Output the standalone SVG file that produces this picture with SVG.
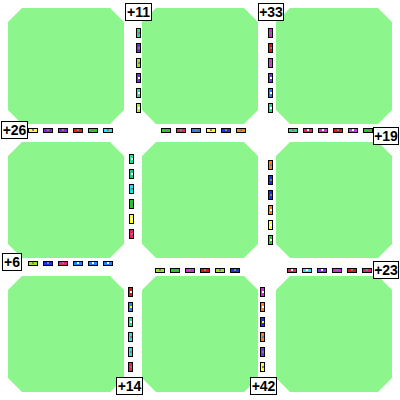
<svg xmlns="http://www.w3.org/2000/svg" xmlns:xlink="http://www.w3.org/1999/xlink" width="400" height="400" viewBox="0 0 400 400">
<style>
.blk{fill:#8cf58c}
.car{stroke:#000;stroke-width:1}
.w{fill:#808080}
.ww{fill:#ffffff}
.lb rect{fill:#fff;stroke:#000;stroke-width:1}
.lb text{font-family:"Liberation Sans",Arial,sans-serif;font-weight:bold;font-size:14px;fill:#000;text-anchor:middle}
</style>
<defs>
<polygon id="oct" points="14,0 102,0 116,14 116,102 102,116 14,116 0,102 0,14"/>
<rect id="ch" x="0.5" y="0.5" width="9" height="4"/>
<rect id="cv" x="0.5" y="0.5" width="4" height="9"/>
</defs>
<rect width="400" height="400" fill="#fff"/>
<g id="blocks">
<use id="b1" href="#oct" class="blk" x="8" y="8"/>
<use id="b2" href="#oct" class="blk" x="142" y="8"/>
<use id="b3" href="#oct" class="blk" x="276" y="8"/>
<use id="b4" href="#oct" class="blk" x="8" y="142"/>
<use id="b5" href="#oct" class="blk" x="142" y="142"/>
<use id="b6" href="#oct" class="blk" x="276" y="142"/>
<use id="b7" href="#oct" class="blk" x="8" y="276"/>
<use id="b8" href="#oct" class="blk" x="142" y="276"/>
<use id="b9" href="#oct" class="blk" x="276" y="276"/>
</g>
<g id="cars">
<!-- horizontal road 1 left -->
<g transform="translate(28,128)"><use href="#ch" class="car" fill="#ffff20"/><rect class="w" x="4" y="1" width="2" height="2"/></g>
<g transform="translate(43,128)"><use href="#ch" class="car" fill="#8020e0"/><rect class="w" x="4" y="1" width="2" height="2"/></g>
<g transform="translate(58,128)"><use href="#ch" class="car" fill="#7a28d8"/><rect class="w" x="4" y="1" width="2" height="2"/></g>
<g transform="translate(73,128)"><use href="#ch" class="car" fill="#ff1010"/><rect class="w" x="4" y="1" width="2" height="2"/></g>
<g transform="translate(88,128)"><use href="#ch" class="car" fill="#20d020"/><rect class="w" x="4" y="1" width="2" height="2"/></g>
<g transform="translate(103,128)"><use href="#ch" class="car" fill="#20e8f0"/><rect class="w" x="4" y="1" width="2" height="2"/></g>
<!-- horizontal road 1 middle -->
<g transform="translate(161,128)"><use href="#ch" class="car" fill="#20d020"/><rect class="w" x="4" y="1" width="2" height="2"/></g>
<g transform="translate(176,128)"><use href="#ch" class="car" fill="#e82068"/><rect class="w" x="4" y="1" width="2" height="2"/></g>
<g transform="translate(191,128)"><use href="#ch" class="car" fill="#2080ff"/><rect class="w" x="4" y="1" width="2" height="2"/></g>
<g transform="translate(206,128)"><use href="#ch" class="car" fill="#ffff20"/><rect class="w" x="4" y="1" width="2" height="2"/></g>
<g transform="translate(221,128)"><use href="#ch" class="car" fill="#1830f0"/><rect class="w" x="4" y="1" width="2" height="2"/></g>
<g transform="translate(236,128)"><use href="#ch" class="car" fill="#ff8010"/><rect class="w" x="4" y="1" width="2" height="2"/></g>
<!-- horizontal road 1 right -->
<g transform="translate(288,128)"><use href="#ch" class="car" fill="#20e090"/><rect class="w" x="4" y="1" width="2" height="2"/></g>
<g transform="translate(303,128)"><use href="#ch" class="car" fill="#e82068"/><rect class="ww" x="4" y="1" width="2" height="2"/></g>
<g transform="translate(318,128)"><use href="#ch" class="car" fill="#e020e0"/><rect class="ww" x="4" y="1" width="2" height="2"/></g>
<g transform="translate(333,128)"><use href="#ch" class="car" fill="#e81010"/><rect class="w" x="4" y="1" width="2" height="2"/></g>
<g transform="translate(348,128)"><use href="#ch" class="car" fill="#d030f0"/><rect class="ww" x="4" y="1" width="2" height="2"/></g>
<g transform="translate(363,128)"><use href="#ch" class="car" fill="#20c820"/><rect class="w" x="4" y="1" width="2" height="2"/></g>
<!-- vertical road 1 top -->
<g transform="translate(136,28)"><use href="#cv" class="car" fill="#20e090"/><rect class="w" x="2" y="4" width="2" height="2"/></g>
<g transform="translate(136,43)"><use href="#cv" class="car" fill="#8020e0"/><rect class="w" x="2" y="4" width="2" height="2"/></g>
<g transform="translate(136,58)"><use href="#cv" class="car" fill="#a0e020"/><rect class="w" x="2" y="4" width="2" height="2"/></g>
<g transform="translate(136,73)"><use href="#cv" class="car" fill="#8020f0"/><rect class="ww" x="2" y="4" width="2" height="2"/></g>
<g transform="translate(136,88)"><use href="#cv" class="car" fill="#20e0a0"/><rect class="ww" x="2" y="4" width="2" height="2"/></g>
<g transform="translate(136,103)"><use href="#cv" class="car" fill="#b0f020"/><rect class="ww" x="2" y="4" width="2" height="2"/></g>
<!-- vertical road 2 top -->
<g transform="translate(268,28)"><use href="#cv" class="car" fill="#e820e0"/><rect class="w" x="2" y="4" width="2" height="2"/></g>
<g transform="translate(268,43)"><use href="#cv" class="car" fill="#e81010"/><rect class="w" x="2" y="4" width="2" height="2"/></g>
<g transform="translate(268,58)"><use href="#cv" class="car" fill="#d040d0"/><rect class="w" x="2" y="4" width="2" height="2"/></g>
<g transform="translate(268,73)"><use href="#cv" class="car" fill="#8030f0"/><rect class="ww" x="2" y="4" width="2" height="2"/></g>
<g transform="translate(268,88)"><use href="#cv" class="car" fill="#2080ff"/><rect class="ww" x="2" y="4" width="2" height="2"/></g>
<g transform="translate(268,103)"><use href="#cv" class="car" fill="#20e090"/><rect class="ww" x="2" y="4" width="2" height="2"/></g>
<!-- vertical road 1 middle -->
<g transform="translate(129,154)"><use href="#cv" class="car" fill="#20e090"/><rect class="ww" x="2" y="4" width="2" height="2"/></g>
<g transform="translate(129,169)"><use href="#cv" class="car" fill="#20d080"/><rect class="ww" x="2" y="4" width="2" height="2"/></g>
<g transform="translate(129,184)"><use href="#cv" class="car" fill="#20e0f0"/><rect class="w" x="2" y="4" width="2" height="2"/></g>
<g transform="translate(129,199)"><use href="#cv" class="car" fill="#20c820"/><rect class="w" x="2" y="4" width="2" height="2"/></g>
<g transform="translate(129,214)"><use href="#cv" class="car" fill="#ffff20"/><rect class="ww" x="2" y="4" width="2" height="2"/></g>
<g transform="translate(129,229)"><use href="#cv" class="car" fill="#e82068"/><rect class="w" x="2" y="4" width="2" height="2"/></g>
<!-- vertical road 2 middle -->
<g transform="translate(268,160)"><use href="#cv" class="car" fill="#ff8010"/><rect class="w" x="2" y="4" width="2" height="2"/></g>
<g transform="translate(268,175)"><use href="#cv" class="car" fill="#1830f0"/><rect class="w" x="2" y="4" width="2" height="2"/></g>
<g transform="translate(268,190)"><use href="#cv" class="car" fill="#1830f0"/><rect class="w" x="2" y="4" width="2" height="2"/></g>
<g transform="translate(268,205)"><use href="#cv" class="car" fill="#ff8010"/><rect class="ww" x="2" y="4" width="2" height="2"/></g>
<g transform="translate(268,220)"><use href="#cv" class="car" fill="#ffff20"/><rect class="ww" x="2" y="4" width="2" height="2"/></g>
<g transform="translate(268,235)"><use href="#cv" class="car" fill="#20d020"/><rect class="ww" x="2" y="4" width="2" height="2"/></g>
<!-- horizontal road 2 left -->
<g transform="translate(28,261)"><use href="#ch" class="car" fill="#a0e020"/><rect class="w" x="4" y="1" width="2" height="2"/></g>
<g transform="translate(43,261)"><use href="#ch" class="car" fill="#1830f0"/><rect class="w" x="4" y="1" width="2" height="2"/></g>
<g transform="translate(58,261)"><use href="#ch" class="car" fill="#e82068"/><rect class="w" x="4" y="1" width="2" height="2"/></g>
<g transform="translate(73,261)"><use href="#ch" class="car" fill="#2080ff"/><rect class="ww" x="4" y="1" width="2" height="2"/></g>
<g transform="translate(88,261)"><use href="#ch" class="car" fill="#2080ff"/><rect class="ww" x="4" y="1" width="2" height="2"/></g>
<g transform="translate(103,261)"><use href="#ch" class="car" fill="#2080ff"/><rect class="ww" x="4" y="1" width="2" height="2"/></g>
<!-- horizontal road 2 middle -->
<g transform="translate(155,268)"><use href="#ch" class="car" fill="#a0e020"/><rect class="w" x="4" y="1" width="2" height="2"/></g>
<g transform="translate(170,268)"><use href="#ch" class="car" fill="#20d020"/><rect class="w" x="4" y="1" width="2" height="2"/></g>
<g transform="translate(185,268)"><use href="#ch" class="car" fill="#e820e0"/><rect class="w" x="4" y="1" width="2" height="2"/></g>
<g transform="translate(200,268)"><use href="#ch" class="car" fill="#e81010"/><rect class="w" x="4" y="1" width="2" height="2"/></g>
<g transform="translate(215,268)"><use href="#ch" class="car" fill="#a0e020"/><rect class="w" x="4" y="1" width="2" height="2"/></g>
<g transform="translate(230,268)"><use href="#ch" class="car" fill="#1830f0"/><rect class="w" x="4" y="1" width="2" height="2"/></g>
<!-- horizontal road 2 right -->
<g transform="translate(287,268)"><use href="#ch" class="car" fill="#e82068"/><rect class="ww" x="4" y="1" width="2" height="2"/></g>
<g transform="translate(302,268)"><use href="#ch" class="car" fill="#20e8f0"/><rect class="ww" x="4" y="1" width="2" height="2"/></g>
<g transform="translate(317,268)"><use href="#ch" class="car" fill="#8030f0"/><rect class="ww" x="4" y="1" width="2" height="2"/></g>
<g transform="translate(332,268)"><use href="#ch" class="car" fill="#e820e0"/><rect class="w" x="4" y="1" width="2" height="2"/></g>
<g transform="translate(347,268)"><use href="#ch" class="car" fill="#e81010"/><rect class="w" x="4" y="1" width="2" height="2"/></g>
<g transform="translate(362,268)"><use href="#ch" class="car" fill="#e82068"/><rect class="w" x="4" y="1" width="2" height="2"/></g>
<!-- vertical road 1 bottom -->
<g transform="translate(128,287)"><use href="#cv" class="car" fill="#e81010"/><rect class="ww" x="2" y="4" width="2" height="2"/></g>
<g transform="translate(128,302)"><use href="#cv" class="car" fill="#2080ff"/><rect fill="#ffff20" x="2" y="4" width="2" height="2"/></g>
<g transform="translate(128,317)"><use href="#cv" class="car" fill="#20e090"/><rect class="ww" x="2" y="4" width="2" height="2"/></g>
<g transform="translate(128,332)"><use href="#cv" class="car" fill="#20e0f0"/><rect class="w" x="2" y="4" width="2" height="2"/></g>
<g transform="translate(128,347)"><use href="#cv" class="car" fill="#20e0f0"/><rect class="w" x="2" y="4" width="2" height="2"/></g>
<g transform="translate(128,362)"><use href="#cv" class="car" fill="#e82068"/><rect class="w" x="2" y="4" width="2" height="2"/></g>
<!-- vertical road 2 bottom -->
<g transform="translate(260,287)"><use href="#cv" class="car" fill="#e820e0"/><rect class="ww" x="2" y="4" width="2" height="2"/></g>
<g transform="translate(260,302)"><use href="#cv" class="car" fill="#ff8010"/><rect class="ww" x="2" y="4" width="2" height="2"/></g>
<g transform="translate(260,317)"><use href="#cv" class="car" fill="#1830f0"/><rect fill="#ffff20" x="2" y="4" width="2" height="2"/></g>
<g transform="translate(260,332)"><use href="#cv" class="car" fill="#ff8010"/><rect class="w" x="2" y="4" width="2" height="2"/></g>
<g transform="translate(260,347)"><use href="#cv" class="car" fill="#8030f0"/><rect class="w" x="2" y="4" width="2" height="2"/></g>
<g transform="translate(260,362)"><use href="#cv" class="car" fill="#ffff20"/><rect class="w" x="2" y="4" width="2" height="2"/></g>
</g>
<g id="labels">
<g id="l11" class="lb"><rect x="125.5" y="3.5" width="26" height="17"/><text x="138.5" y="17">+11</text></g>
<g id="l33" class="lb"><rect x="258.5" y="3.5" width="25" height="17"/><text x="271" y="17">+33</text></g>
<g id="l26" class="lb"><rect x="1.5" y="121.5" width="26" height="17"/><text x="14.5" y="135">+26</text></g>
<g id="l19" class="lb"><rect x="373.5" y="127.5" width="25" height="17"/><text x="386" y="141">+19</text></g>
<g id="l6" class="lb"><rect x="2.5" y="253.5" width="19" height="17"/><text x="12" y="267">+6</text></g>
<g id="l23" class="lb"><rect x="373.5" y="261.5" width="25" height="17"/><text x="386" y="275">+23</text></g>
<g id="l14" class="lb"><rect x="116.5" y="377.5" width="26" height="17"/><text x="129.5" y="391">+14</text></g>
<g id="l42" class="lb"><rect x="250.5" y="377.5" width="26" height="17"/><text x="263.5" y="391">+42</text></g>
</g>
</svg>
